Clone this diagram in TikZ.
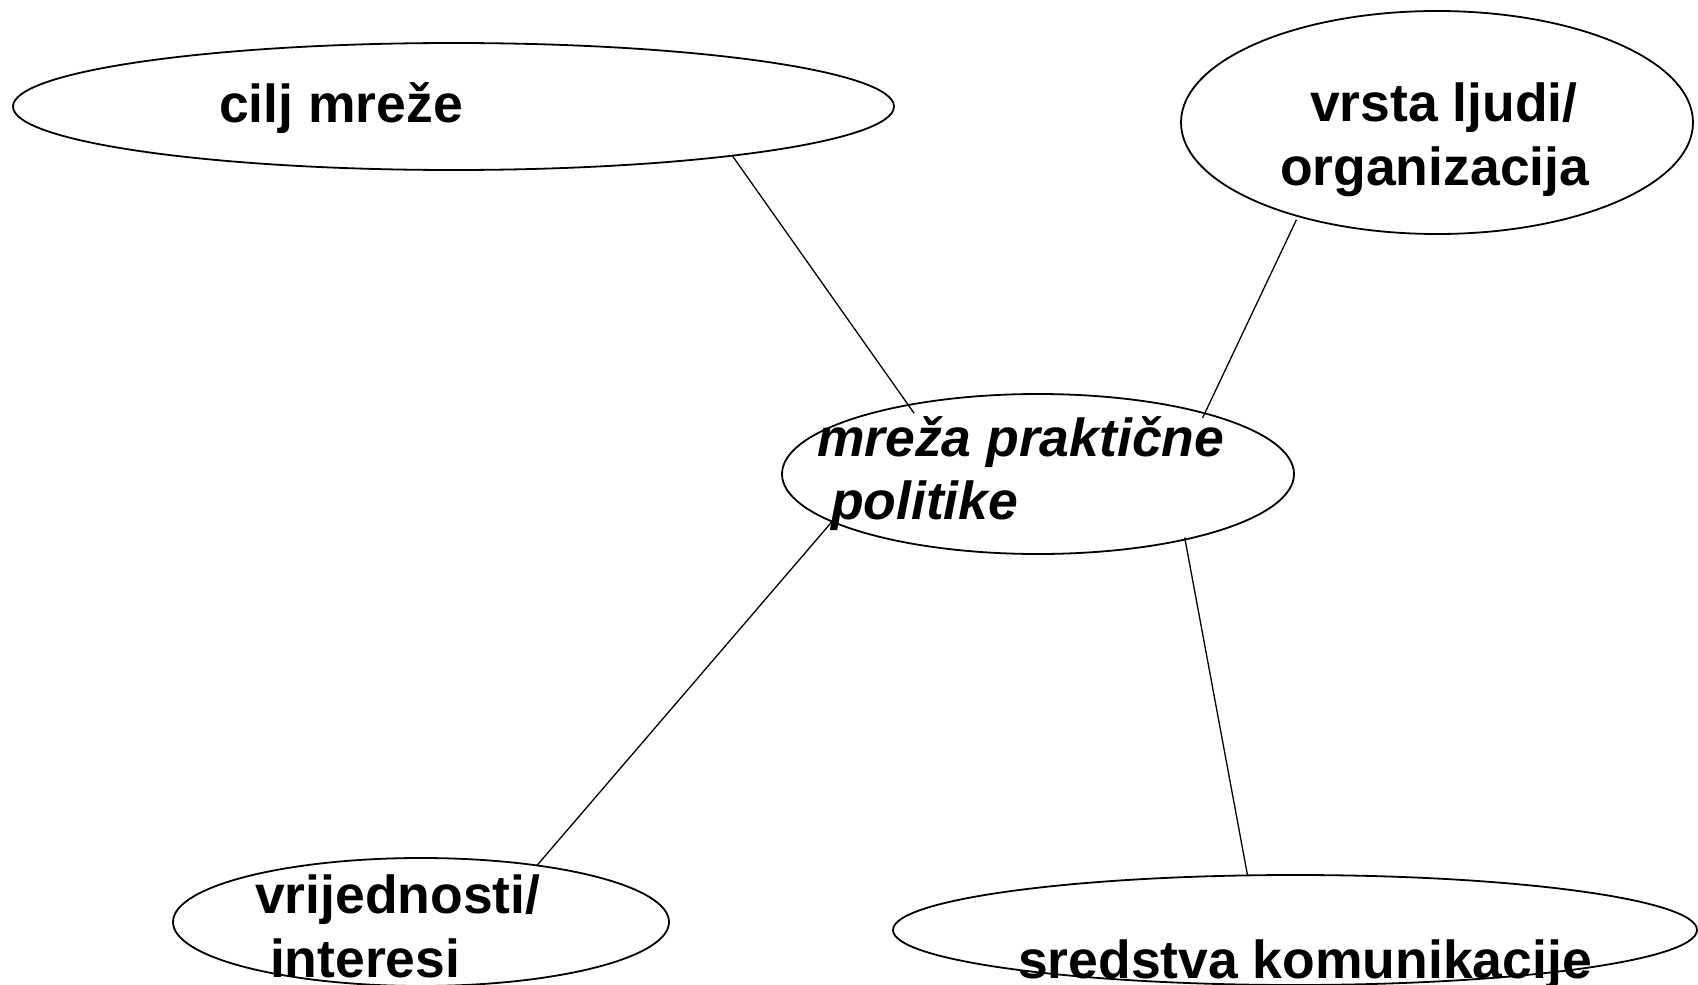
\documentclass[tikz,border=0pt]{standalone}
\usepackage{fontspec}
\setmainfont{Liberation Sans}
\usetikzlibrary{shapes.geometric}
\begin{document}
\begin{tikzpicture}[x=1pt,y=-1pt,
  oval/.style={draw=black, line width=1.8pt, ellipse, inner sep=0pt, outer sep=0pt},
  lbl/.style={anchor=base west, inner sep=0pt, outer sep=0pt, font=\fontsize{53.5}{62}\selectfont\bfseries},
  lbli/.style={lbl, font=\fontsize{53.5}{62}\selectfont\bfseries\itshape},
  link/.style={draw=black, line width=1.3pt}]
\useasboundingbox[fill=white] (0,0) rectangle (1698,985);

% ellipses
\node[oval, minimum width=881pt, minimum height=127pt] (cilj) at (453.5,106.5) {};
\node[oval, minimum width=512pt, minimum height=223pt] (vrsta) at (1437,122.5) {};
\node[oval, minimum width=512pt, minimum height=160pt] (mid) at (1038,474) {};
\node[oval, minimum width=496pt, minimum height=128pt] (vrij) at (421,922) {};
\node[oval, minimum width=804pt, minimum height=110pt] (sred) at (1295,930) {};

% texts
\node[lbl] (ciljT) at (219,122) {cilj mreže};
\node[lbl] (vrstaA) at (1310,121) {vrsta ljudi/};
\node[lbl] (vrstaB) at (1280,185) {organizacija};
\node[lbli] (midA) at (817,456) {mreža praktične};
\node[lbli] (midB) at (831,519) {politike};
\node[lbl] (vrijA) at (255,913) {vrijednosti/};
\node[lbl] (vrijB) at (270,977) {interesi};
\node[lbl] (sredT) at (1018,978) {sredstva komunikacije};

% connectors
\draw[link, shorten >=-10pt] (cilj.-10.5) -- (mid.152.9);
\draw[link, shorten <=4pt, shorten >=-5pt] (vrsta.-146.5) -- (mid.20.4);
\draw[link] (mid.-167.1) -- (vrij.26.3);
\draw[link, shorten <=-2pt] (mid.-24.8) -- (sred.131.7);
\end{tikzpicture}
\end{document}
